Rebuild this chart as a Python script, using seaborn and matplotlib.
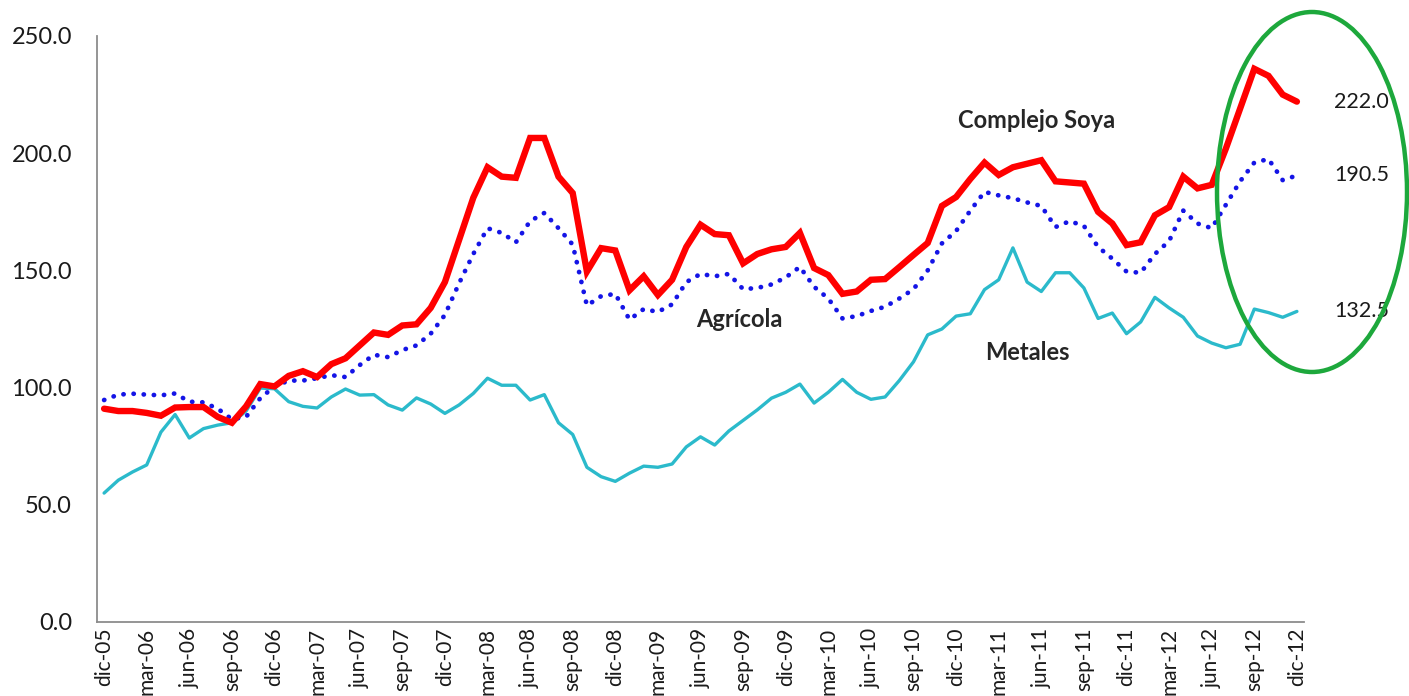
import numpy as np
import pandas as pd
import matplotlib
matplotlib.use("Agg")
import matplotlib.pyplot as plt
from matplotlib.patches import Ellipse
import seaborn as sns

# monthly index values, dic-05 .. dic-12
months = pd.period_range("2005-12", "2012-12", freq="M")
mes_abbr = ["ene", "feb", "mar", "abr", "may", "jun", "jul", "ago", "sep", "oct", "nov", "dic"]

soya = [91, 90, 90, 89.2, 88, 91.5, 91.7, 91.7, 87.5, 85,
        92, 101.5, 100.5, 105, 107, 104.5, 110, 112.5, 118, 123.5,
        122.5, 126.5, 127, 134, 145, 163, 181, 194, 190, 189.5,
        206.5, 206.5, 190, 183, 149.5, 159.5, 158.5, 141.5, 147.5, 139.5,
        146, 160, 169.5, 165.5, 165, 153, 157, 159, 160, 166,
        151, 148, 140, 141, 146, 146.3, 151.4, 156.6, 161.7, 177.5,
        181.3, 189, 196, 190.7, 194, 195.5, 197, 188, 187.5, 187,
        175, 170, 160.8, 162, 173.5, 177, 190, 185, 186.5, 202,
        219, 236, 233, 225, 222]

agricola = [94.7, 97, 97.4, 97, 96.7, 97.5, 94, 93.7, 91, 86.5,
            87.5, 95.5, 100.5, 103, 103, 104, 105.3, 104.5, 109.6, 114,
            113, 116, 118, 123, 131, 144.5, 157, 168, 166, 162,
            171, 174.5, 168, 161, 135, 139, 140, 129, 133.5, 132.3,
            135.5, 145, 148.5, 147.5, 148.5, 142, 142.5, 144, 147, 151.5,
            143, 138, 129.5, 130.5, 132.7, 134.5, 138, 142, 150, 161.5,
            166.8, 175.5, 183.5, 182, 180.8, 179, 177.5, 168.5, 171, 169,
            160, 155, 149.5, 149, 157, 162.5, 175.5, 170, 168, 178,
            188, 196, 197.5, 188.5, 190.5]

metales = [55, 60.5, 64, 67, 81, 88.5, 78.5, 82.5, 84, 85,
           90, 99.8, 99.5, 94, 92, 91.3, 96, 99.4, 96.8, 97,
           92.6, 90.4, 95.6, 93, 89, 92.6, 97.5, 104, 101, 101,
           94.7, 97, 85, 80, 66, 62, 60, 63.5, 66.5, 66,
           67.4, 74.7, 79, 75.5, 81.5, 86, 90.5, 95.5, 98, 101.5,
           93.4, 98, 103.5, 98, 95, 96, 103, 111, 122.5, 125,
           130.5, 131.5, 141.8, 146, 159.6, 145, 141, 149, 149, 142.5,
           129.5, 131.8, 123, 128, 138.5, 134, 130, 122, 119, 117,
           118.5, 133.5, 132, 130, 132.5]

labels = [f"{mes_abbr[p.month - 1]}-{p.year % 100:02d}" for p in months]
x = np.arange(len(months))

df = pd.DataFrame({"x": x, "soya": soya, "agricola": agricola, "metales": metales})

sns.set_style("white")
plt.rcParams["font.family"] = ["Lato", "DejaVu Sans"]

fig = plt.figure(figsize=(14.09, 6.96), dpi=100)
ax = fig.add_axes([97 / 1409, 1 - 622 / 696, (1304 - 97) / 1409, (622 - 36) / 696])

sns.lineplot(data=df, x="x", y="metales", ax=ax, color="#2BBACB", linewidth=2.4)
sns.lineplot(data=df, x="x", y="agricola", ax=ax, color="#1414E6", linewidth=3.4,
             linestyle=(0, (0.05, 2.1)), dash_capstyle="round")
sns.lineplot(data=df, x="x", y="soya", ax=ax, color="#FF0000", linewidth=4.6,
             solid_joinstyle="miter")

ax.set_xlim(-0.5, len(x) - 0.5)
ax.set_ylim(0, 250)
ax.set_yticks(np.arange(0, 251, 50))
ax.set_yticklabels([f"{v:.1f}" for v in np.arange(0, 251, 50)], fontsize=17, color="#1A1A1A")
ax.set_xticks(x[::3])
ax.set_xticklabels(labels[::3], rotation=90, fontsize=15, color="#1A1A1A")
ax.set_xlabel("")
ax.set_ylabel("")

for side in ["top", "right"]:
    ax.spines[side].set_visible(False)
for side in ["left", "bottom"]:
    ax.spines[side].set_color("#8C8C8C")
    ax.spines[side].set_linewidth(1.3)
ax.tick_params(axis="y", length=7, width=1.3, color="#8C8C8C", direction="out", pad=11)
ax.tick_params(axis="x", length=0, pad=4)

# series names
ax.text(65.7, 214, "Complejo Soya", fontsize=17, fontweight="bold", ha="center", va="center")
ax.text(44.7, 129, "Agrícola", fontsize=17, fontweight="bold", ha="center", va="center")
ax.text(65.0, 115, "Metales", fontsize=17, fontweight="bold", ha="center", va="center")

# last values
for val in [soya[-1], agricola[-1], metales[-1]]:
    ax.text(86.6, val, f"{val:.1f}", fontsize=15.5, ha="left", va="center",
            color="#1A1A1A", clip_on=False)

fig.patches.append(Ellipse((1312 / 1409, 1 - 192 / 696), 190 / 1409, 360 / 696,
                           transform=fig.transFigure, fill=False,
                           edgecolor="#1DA83C", linewidth=3.2))

fig.savefig("out.png", dpi=100)
